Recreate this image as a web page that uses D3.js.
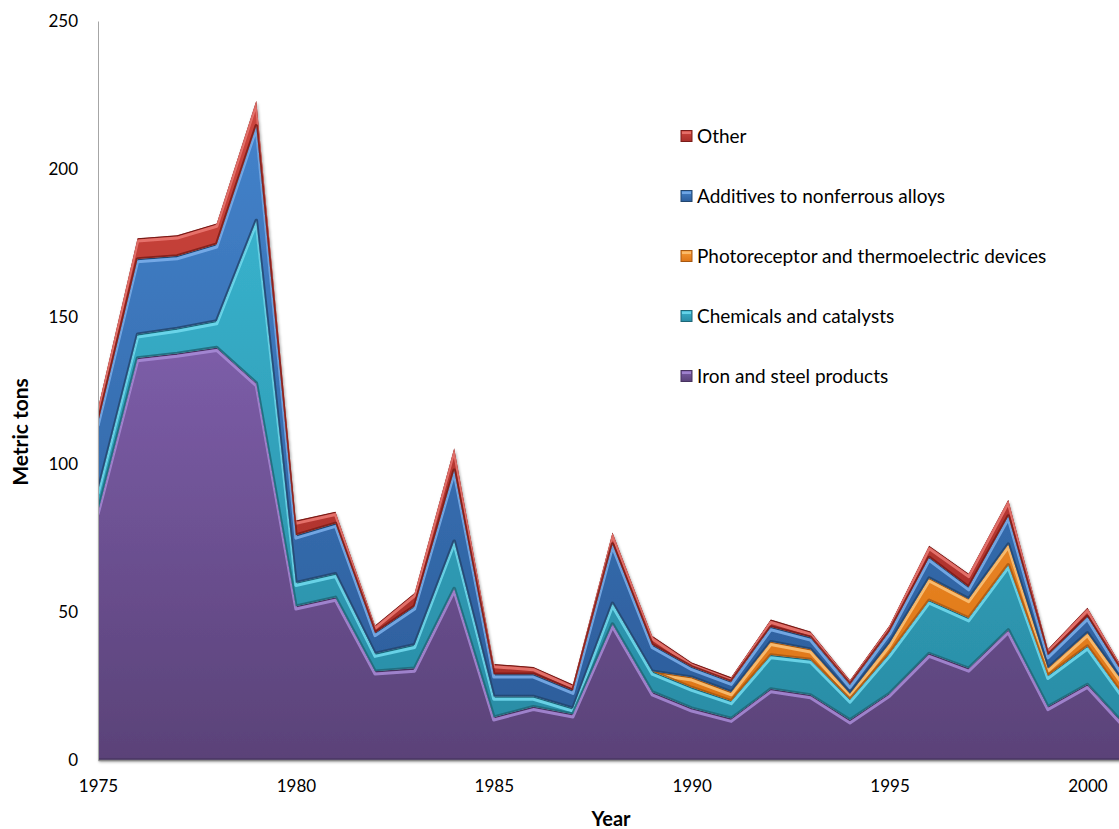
<!DOCTYPE html>
<html>
<head>
<meta charset="utf-8">
<script src="https://cdn.jsdelivr.net/npm/d3@7"></script>
<style>
  html, body { margin: 0; padding: 0; background: #fff; }
  svg { display: block; }
  text { font-family: Lato, "Open Sans", "DejaVu Sans", sans-serif; fill: #000; }
</style>
</head>
<body>
<svg id="chart" width="1119" height="829"></svg>
<script>
// Selenium end-use consumption, metric tons per year
const years = [1975, 1976, 1977, 1978, 1979, 1980, 1981, 1982, 1983, 1984, 1985, 1986, 1987,
               1988, 1989, 1990, 1991, 1992, 1993, 1994, 1995, 1996, 1997, 1998, 1999, 2000, 2001];
const ironSteel  = [84, 136, 137.5, 139.5, 127.5, 52, 55, 30, 31, 58, 14.5, 18, 15.5,
                    46, 23, 17.5, 14, 24, 22, 13.5, 22.5, 36, 31, 44, 18, 25.5, 11];
const chemicals  = [7, 8, 8.5, 9, 55, 8, 8, 6, 8, 16, 7, 3.5, 2,
                    7, 7, 7, 6, 11.5, 12, 7, 13.5, 18, 17, 22, 10.5, 13, 9];
const photo      = [0, 0, 0, 0, 0, 0, 0, 0, 0, 0, 0, 0, 0,
                    0, 0, 3.5, 3, 4.5, 3.5, 2, 3.5, 7.5, 6.5, 7, 2.5, 4.5, 4.5];
const additives  = [23, 25.5, 24.5, 26, 32, 16, 17, 7, 13, 24, 7.5, 7.5, 6,
                    20, 9, 3.5, 3.5, 5, 4, 3, 4, 7, 4, 9.5, 4.5, 5.5, 2.5];
const other      = [5, 7, 7, 7, 8.5, 5, 4, 2.5, 4.5, 7.5, 3.5, 2.5, 2,
                    4, 3, 1.5, 1.5, 2.5, 2, 1.5, 2, 4, 4.5, 5.5, 2, 3, 1.5];

const seriesNames = ["Iron and steel products", "Chemicals and catalysts",
                     "Photoreceptor and thermoelectric devices",
                     "Additives to nonferrous alloys", "Other"];
const seriesValues = [ironSteel, chemicals, photo, additives, other];
const yTicks = [0, 50, 100, 150, 200, 250];
const xTickYears = [1975, 1980, 1985, 1990, 1995, 2000];

// fill gradient (top, bottom), bevel highlight and dark edge for each series
const palette = [
  { top: "#7C5DA8", bottom: "#5A4278", light: "#A98CD8", dark: "#47325F" },
  { top: "#38B2CC", bottom: "#2A8DA6", light: "#72DCF0", dark: "#1E6778" },
  { top: "#F69B36", bottom: "#DE7618", light: "#FCC47A", dark: "#A85810" },
  { top: "#4382CA", bottom: "#2D5E9C", light: "#7CB0EC", dark: "#23466F" },
  { top: "#CC453D", bottom: "#A92F2A", light: "#EC7A74", dark: "#7A1C19" }
];

const rows = years.map((yr, i) => {
  const r = { year: yr };
  seriesNames.forEach((n, k) => r[n] = seriesValues[k][i]);
  return r;
});
const layers = d3.stack().keys(seriesNames)(rows);

const svg = d3.select("#chart");
const defs = svg.append("defs");

const x = d3.scaleLinear().domain([1975, 2001]).range([98, 1127]);
const y = d3.scaleLinear().domain([0, 250]).range([760, 21]);

// soft shadow under the stacked bands
const shadow = defs.append("filter").attr("id", "soft-shadow")
  .attr("x", "-5%").attr("y", "-5%").attr("width", "110%").attr("height", "110%");
shadow.append("feGaussianBlur").attr("in", "SourceAlpha").attr("stdDeviation", 1.6).attr("result", "b");
shadow.append("feOffset").attr("in", "b").attr("dx", 1).attr("dy", 1.5).attr("result", "o");
shadow.append("feComponentTransfer").attr("in", "o").attr("result", "s")
  .append("feFuncA").attr("type", "linear").attr("slope", 0.35);
const merge = shadow.append("feMerge");
merge.append("feMergeNode").attr("in", "s");
merge.append("feMergeNode").attr("in", "SourceGraphic");

const area = d3.area()
  .x(d => x(d.data.year)).y0(d => y(d[0])).y1(d => y(d[1]));
const topLine = d3.line().x(d => x(d.data.year)).y(d => y(d[1]));
const bottomLine = d3.line().x(d => x(d.data.year)).y(d => y(d[0]));

const plot = svg.append("g").attr("filter", "url(#soft-shadow)");

layers.forEach((layer, i) => {
  const c = palette[i];
  const gid = "grad-" + i;
  const g = defs.append("linearGradient").attr("id", gid)
    .attr("x1", 0).attr("y1", 0).attr("x2", 0).attr("y2", 1);
  g.append("stop").attr("offset", "0%").attr("stop-color", c.top);
  g.append("stop").attr("offset", "100%").attr("stop-color", c.bottom);

  const cid = "clip-" + i;
  defs.append("clipPath").attr("id", cid)
    .append("path").attr("d", area(layer));

  const band = plot.append("g").attr("clip-path", `url(#${cid})`);
  band.append("path").attr("d", area(layer)).attr("fill", `url(#${gid})`);
  // dark rim along the upper edge
  band.append("path").attr("d", topLine(layer))
    .attr("fill", "none").attr("stroke", c.dark).attr("stroke-width", 2.6)
    .attr("stroke-linejoin", "round");
  // light bevel just inside the upper edge
  band.append("path").attr("d", topLine(layer))
    .attr("transform", "translate(0,2.8)")
    .attr("fill", "none").attr("stroke", c.light).attr("stroke-width", 3)
    .attr("stroke-opacity", 0.85).attr("stroke-linejoin", "round");
  // shaded lower edge
  band.append("path").attr("d", bottomLine(layer))
    .attr("fill", "none").attr("stroke", c.dark).attr("stroke-width", 3.6)
    .attr("stroke-opacity", 0.85).attr("stroke-linejoin", "round");
});

// axes
const yAxis = d3.axisLeft(y).tickValues(yTicks).tickSize(0).tickPadding(20);
const yg = svg.append("g").attr("transform", "translate(98,0)").call(yAxis);
yg.select(".domain").attr("stroke", "#A6A6A6").attr("stroke-width", 1);
yg.selectAll("text").attr("font-size", 17).style("font-family", "Lato, sans-serif");

const xAxis = d3.axisBottom(x).tickValues(xTickYears).tickFormat(d3.format("d"))
  .tickSize(0).tickPadding(20);
const xg = svg.append("g").attr("transform", "translate(0,760)").call(xAxis);
xg.select(".domain").attr("stroke", "#8C8C8C").attr("stroke-width", 1.5);
xg.selectAll("text").attr("font-size", 17).style("font-family", "Lato, sans-serif");

// axis titles
svg.append("text").attr("x", 611).attr("y", 826).attr("text-anchor", "middle")
  .attr("font-size", 20).attr("font-weight", "bold").text("Year");
svg.append("text").attr("transform", "translate(28,432) rotate(-90)")
  .attr("text-anchor", "middle").attr("font-size", 21).attr("font-weight", "bold")
  .text("Metric tons");

// legend, top entry first
const legendOrder = [4, 3, 2, 1, 0];
const legend = svg.append("g");
legendOrder.forEach((k, j) => {
  const cy = 136 + j * 60;
  const c = palette[k];
  const lg = legend.append("g").attr("transform", `translate(681,${cy})`);
  lg.append("rect").attr("x", 0).attr("y", -5.5).attr("width", 11).attr("height", 11)
    .attr("fill", `url(#grad-${k})`).attr("stroke", c.dark).attr("stroke-width", 1);
  lg.append("rect").attr("x", 1).attr("y", -4.5).attr("width", 9).attr("height", 2.5)
    .attr("fill", c.light).attr("opacity", 0.8);
  lg.append("text").attr("x", 16).attr("y", 0).attr("dy", "0.35em")
    .attr("font-size", 19).text(seriesNames[k]);
});
</script>
</body>
</html>
